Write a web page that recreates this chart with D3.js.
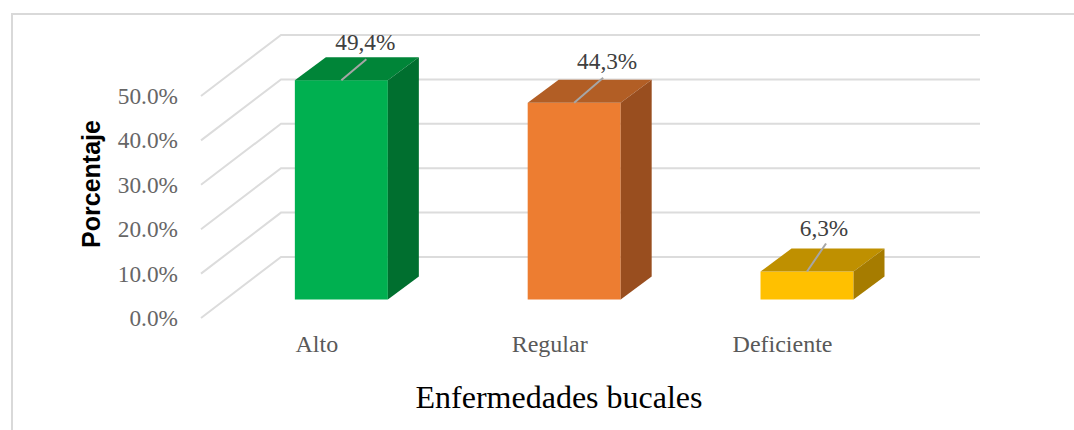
<!DOCTYPE html>
<html><head><meta charset="utf-8">
<script src="https://cdn.jsdelivr.net/npm/d3@7"></script>
<style>html,body{margin:0;padding:0;background:#fff}svg{display:block}</style>
</head><body><svg id="c" width="1074" height="430"></svg>
<script>
const categories = ["Alto","Regular","Deficiente"];
const values = [49.4,44.3,6.3];
const valueLabels = ["49,4%","44,3%","6,3%"];
const tickValues = [0,10,20,30,40,50];
const frontColors = ["#00b050","#ed7d31","#ffc000"];
const topColors = ["#008538","#b25e25","#bf9000"];
const sideColors = ["#006f2f","#994e1f","#a67c00"];
const xTitle = "Enfermedades bucales";
const yTitle = "Porcentaje";

const svg = d3.select("#c");
const serif = "'Liberation Serif','Times New Roman',serif";

// card border: open at the right and bottom
svg.append("path").attr("d","M12,430V14H1074").attr("fill","none").attr("stroke","#d9d9d9").attr("stroke-width",2);

const h = d3.scaleLinear().domain([0,50]).range([0,222]);
const leftBase = 318, backBase = 257, leftX = 201, backX = 281, rightX = 980;
const x = d3.scaleBand().domain(categories).range([225,923.5]).paddingInner(0.6).paddingOuter(0.3);
const barBase = 299.5, depthX = 31, depthY = 23;

// gridlines
const grid = svg.append("g").attr("fill","none").attr("stroke","#dcdcdc").attr("stroke-width",2);
tickValues.forEach(t=>{
  grid.append("polyline").attr("points",[[leftX,leftBase-h(t)],[backX,backBase-h(t)],[rightX,backBase-h(t)]].map(p=>p.join(",")).join(" "));
});

// y tick labels
svg.append("g").selectAll("text").data(tickValues).join("text")
  .attr("x",178).attr("y",t=>leftBase-h(t)+8).attr("text-anchor","end")
  .attr("font-family",serif).attr("font-size",23.3).attr("fill","#666")
  .text(t=>t.toFixed(1)+"%");

// bars
const bw = 93;
const leaderDx = [25,29,19], leaderDy = [21,25,28], labelDx = [24,33,17], labelDy = [30,34,36];
categories.forEach((c,i)=>{
  const x0 = x(c), x1 = x0+bw, yt = barBase-h(values[i]);
  const g = svg.append("g");
  g.append("rect").attr("x",x0).attr("y",yt).attr("width",bw).attr("height",h(values[i])).attr("fill",frontColors[i]);
  g.append("polygon").attr("fill",topColors[i]).attr("points",[[x0,yt],[x1,yt],[x1+depthX,yt-depthY],[x0+depthX,yt-depthY]].map(p=>p.join(",")).join(" "));
  g.append("polygon").attr("fill",sideColors[i]).attr("points",[[x1,yt],[x1+depthX,yt-depthY],[x1+depthX,barBase-depthY],[x1,barBase]].map(p=>p.join(",")).join(" "));
  const cx = x0+bw/2;
  g.append("line").attr("x1",cx).attr("y1",yt).attr("x2",cx+leaderDx[i]).attr("y2",yt-leaderDy[i])
    .attr("stroke","#a6a6a6").attr("stroke-width",2);
  svg.append("text").attr("x",cx+labelDx[i]).attr("y",yt-labelDy[i]).attr("text-anchor","middle")
    .attr("font-family",serif).attr("font-size",23.3).attr("fill","#404040").text(valueLabels[i]);
  svg.append("text").attr("x",cx-24.5).attr("y",352).attr("text-anchor","middle")
    .attr("font-family",serif).attr("font-size",24).attr("fill","#595959").text(c);
});

svg.append("text").attr("x",559).attr("y",408).attr("text-anchor","middle")
  .attr("font-family",serif).attr("font-size",32).attr("fill","#000").text(xTitle);
svg.append("text").attr("transform","translate(100,184) rotate(-90)").attr("text-anchor","middle")
  .attr("font-family","'Liberation Sans',Arial,sans-serif").attr("font-weight","bold").attr("font-size",25).attr("fill","#000").text(yTitle);
</script></body></html>
